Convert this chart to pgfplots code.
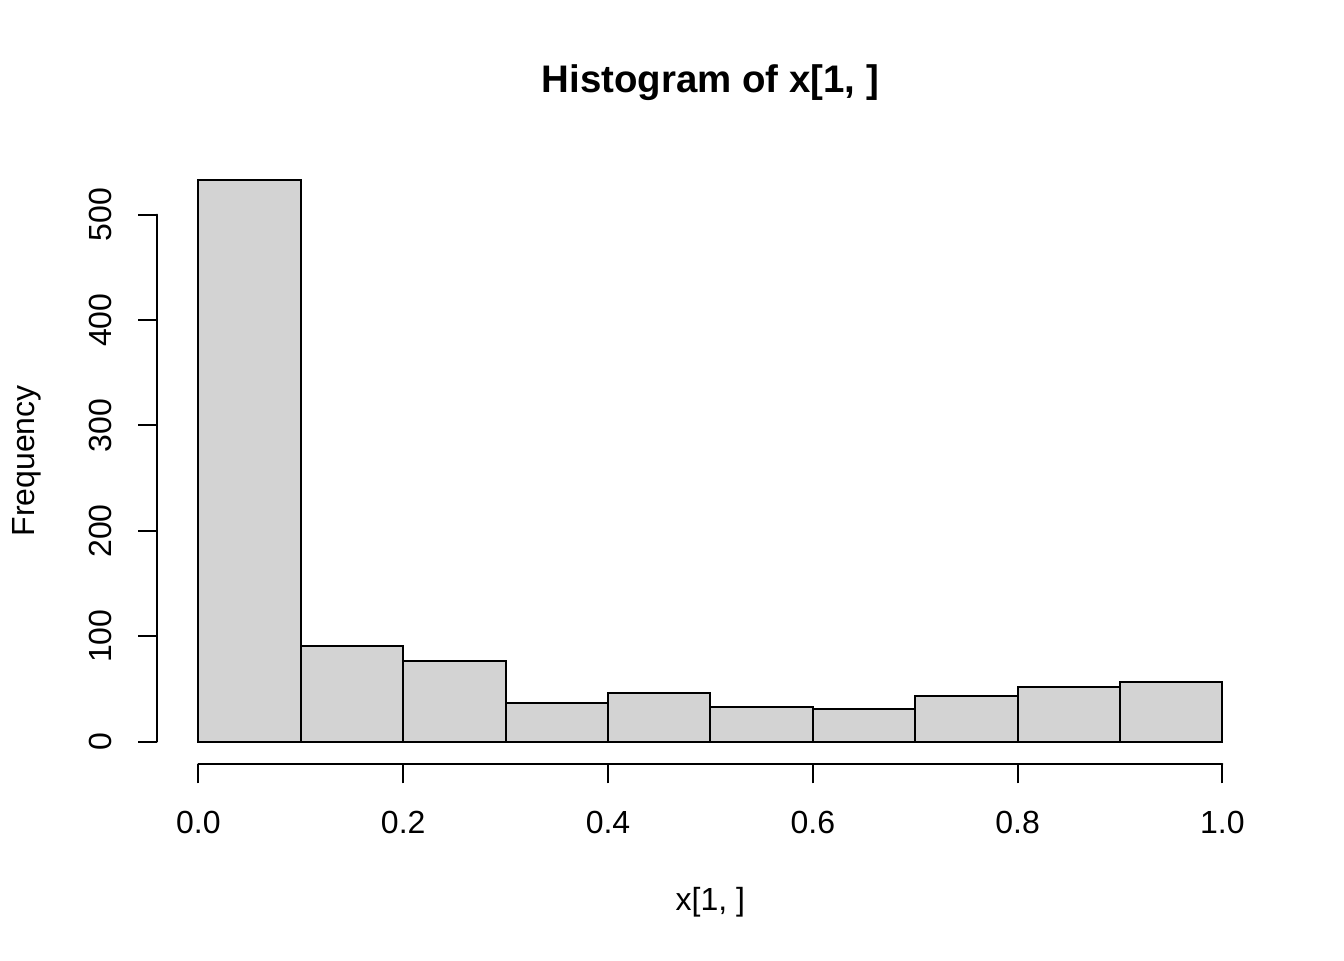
\documentclass[border=0pt]{standalone}
\usepackage{fontspec}
\setmainfont{Liberation Sans}
\usepackage{pgfplots}
\pgfplotsset{compat=1.18}
\definecolor{rgray}{HTML}{D3D3D3}
\begin{document}
\begin{tikzpicture}[font=\fontsize{12}{14.4}\selectfont]
\useasboundingbox (0,0) rectangle (504pt,360pt);
\begin{axis}[
  at={(59.04pt,73.44pt)}, anchor=south west,
  scale only axis, width=414.72pt, height=227.52pt,
  xmin=-0.04, xmax=1.04, ymin=-21.32, ymax=554.32,
  axis x line*=bottom, axis y line*=left,
  axis line style={draw=none},
  xtick={0,0.2,0.4,0.6,0.8,1}, ytick={0,100,200,300,400,500},
  xticklabels={}, yticklabels={},
  tick align=outside, major tick length=7.2pt,
  tick style={black, line width=0.75pt},
  clip=false,
]
\addplot[ybar interval, fill=rgray, draw=black, line width=0.75pt] coordinates {
  (0.0,533) (0.1,91) (0.2,77) (0.3,37) (0.4,46) (0.5,33)
  (0.6,31) (0.7,43) (0.8,52) (0.9,57) (1.0,57)
};
\draw[line width=0.75pt, line cap=round] (axis cs:0,-21.32) -- (axis cs:1,-21.32);
\draw[line width=0.75pt, line cap=round] (axis cs:-0.04,0) -- (axis cs:-0.04,500);
\node[anchor=base, inner sep=0] at ([yshift=-25.92pt]axis cs:0,-21.32) {0.0};
\node[anchor=base, inner sep=0] at ([yshift=-25.92pt]axis cs:0.2,-21.32) {0.2};
\node[anchor=base, inner sep=0] at ([yshift=-25.92pt]axis cs:0.4,-21.32) {0.4};
\node[anchor=base, inner sep=0] at ([yshift=-25.92pt]axis cs:0.6,-21.32) {0.6};
\node[anchor=base, inner sep=0] at ([yshift=-25.92pt]axis cs:0.8,-21.32) {0.8};
\node[anchor=base, inner sep=0] at ([yshift=-25.92pt]axis cs:1,-21.32) {1.0};
\node[anchor=base, rotate=90, inner sep=0] at ([xshift=-17.28pt]axis cs:-0.04,0) {0};
\node[anchor=base, rotate=90, inner sep=0] at ([xshift=-17.28pt]axis cs:-0.04,100) {100};
\node[anchor=base, rotate=90, inner sep=0] at ([xshift=-17.28pt]axis cs:-0.04,200) {200};
\node[anchor=base, rotate=90, inner sep=0] at ([xshift=-17.28pt]axis cs:-0.04,300) {300};
\node[anchor=base, rotate=90, inner sep=0] at ([xshift=-17.28pt]axis cs:-0.04,400) {400};
\node[anchor=base, rotate=90, inner sep=0] at ([xshift=-17.28pt]axis cs:-0.04,500) {500};
\end{axis}
\node[anchor=base, inner sep=0] at (266.4pt,18.72pt) {x[1, ]};
\node[anchor=base, rotate=90, inner sep=0] at (12.96pt,187.2pt) {Frequency};
\node[anchor=base, inner sep=0, font=\fontsize{14.4}{17}\selectfont\bfseries] at (266.4pt,325.5pt) {Histogram of x[1, ]};
\end{tikzpicture}
\end{document}
